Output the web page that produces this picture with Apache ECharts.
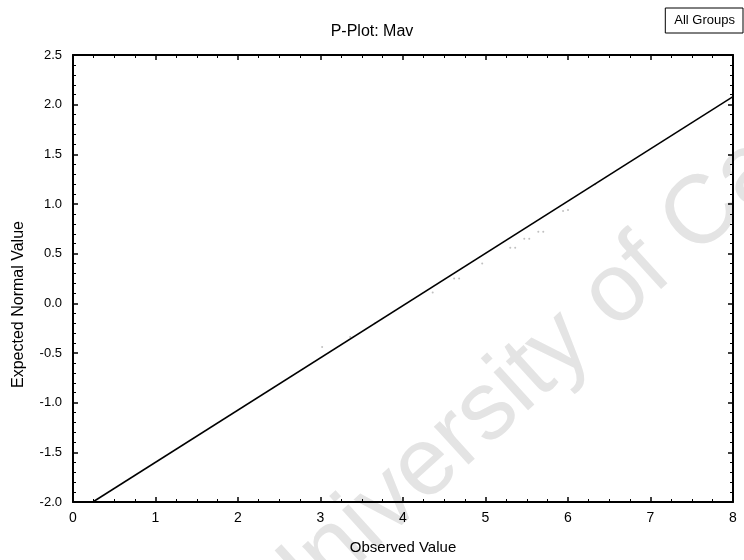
<!DOCTYPE html>
<html>
<head>
<meta charset="utf-8">
<script src="https://cdn.jsdelivr.net/npm/echarts@6/dist/echarts.min.js"></script>
<style>
  html, body { margin: 0; padding: 0; background: #fff; }
  #chart { width: 744px; height: 560px; }
</style>
</head>
<body>
<div id="chart"></div>
<script>
// ---- data ----
var chartTitle = 'P-Plot: Mav';
var legendLabel = 'All Groups';
var xAxisName = 'Observed Value';
var yAxisName = 'Expected Normal Value';
var watermarkText = 'University of Cape Town';

// expected-normal reference line (observed value -> expected normal value)
var lineX = [0.24, 8.0];
var lineY = [-2.0, 2.08];

// faint observed points visible near the line
var pointsX = [3.02, 3.36, 3.66, 4.36, 4.62, 4.68, 4.96, 5.30, 5.36, 5.47, 5.53, 5.64, 5.70, 5.94, 6.00, 6.33];
var pointsY = [-0.44, -0.34, -0.20, 0.11, 0.25, 0.25, 0.40, 0.56, 0.56, 0.65, 0.65, 0.72, 0.72, 0.93, 0.94, 1.20];

var xMin = 0, xMax = 8, xStep = 1;
var yMin = -2.0, yMax = 2.5, yStep = 0.5;

// ---- build ----
var lineData = lineX.map(function (x, i) { return [x, lineY[i]]; });
var pointData = pointsX.map(function (x, i) { return [x, pointsY[i]]; });

var FONT = '"Liberation Sans", Arial, sans-serif';
var axisLineStyle = { color: '#000', width: 2 };

function baseAxis(extra) {
  var a = {
    type: 'value',
    axisLine: { show: true, onZero: false, lineStyle: axisLineStyle },
    axisTick: { show: true, inside: true, length: 5, lineStyle: { color: '#000', width: 1.5 } },
    minorTick: { show: true, length: 3, lineStyle: { color: '#000', width: 1 } },
    splitLine: { show: false },
    minorSplitLine: { show: false }
  };
  for (var k in extra) a[k] = extra[k];
  return a;
}

var chart = echarts.init(document.getElementById('chart'), null, { renderer: 'canvas' });

chart.setOption({
  backgroundColor: '#fff',
  animation: false,
  title: {
    text: chartTitle,
    left: 'center',
    top: 19,
    textStyle: { fontFamily: FONT, fontSize: 16, fontWeight: 'normal', color: '#000' }
  },
  legend: {
    data: [legendLabel],
    right: 1,
    top: 8,
    itemWidth: 0,
    itemHeight: 0,
    itemGap: 0,
    padding: [6, 8, 6, 3],
    borderColor: '#000',
    borderWidth: 1,
    textStyle: { fontFamily: FONT, fontSize: 13, color: '#000' }
  },
  grid: { left: 73, right: 11, top: 55, bottom: 57 },
  graphic: [{
    type: 'text',
    z: -10,
    silent: true,
    x: 262,
    y: 616,
    rotation: 42.3 * Math.PI / 180,
    style: {
      text: watermarkText,
      fontFamily: FONT,
      fontSize: 97,
      fill: '#e4e4e4',
      textAlign: 'left',
      textVerticalAlign: 'middle'
    }
  }],
  xAxis: [
    baseAxis({
      position: 'bottom',
      min: xMin, max: xMax, interval: xStep,
      minorTick: { show: true, splitNumber: 4, length: 3, lineStyle: { color: '#000', width: 1 } },
      name: xAxisName,
      nameLocation: 'middle',
      nameGap: 38,
      nameTextStyle: { fontFamily: FONT, fontSize: 15, color: '#000' },
      axisLabel: { margin: 9, fontFamily: FONT, fontSize: 14, color: '#000' }
    }),
    baseAxis({
      position: 'top',
      min: xMin, max: xMax, interval: xStep,
      minorTick: { show: true, splitNumber: 4, length: 3, lineStyle: { color: '#000', width: 1 } },
      axisLabel: { show: false }
    })
  ],
  yAxis: [
    baseAxis({
      position: 'left',
      min: yMin, max: yMax, interval: yStep,
      minorTick: { show: true, splitNumber: 5, length: 3, lineStyle: { color: '#000', width: 1 } },
      name: yAxisName,
      nameLocation: 'middle',
      nameGap: 46,
      nameTextStyle: { fontFamily: FONT, fontSize: 16, color: '#000', padding: [0, 52, 0, 0] },
      axisLabel: {
        margin: 11, fontFamily: FONT, fontSize: 13, color: '#000',
        formatter: function (v) { return v.toFixed(1); }
      }
    }),
    baseAxis({
      position: 'right',
      min: yMin, max: yMax, interval: yStep,
      minorTick: { show: true, splitNumber: 5, length: 3, lineStyle: { color: '#000', width: 1 } },
      axisLabel: { show: false }
    })
  ],
  series: [
    {
      name: 'observed',
      type: 'scatter',
      xAxisIndex: 0,
      yAxisIndex: 0,
      symbol: 'circle',
      symbolSize: 2,
      itemStyle: { color: '#b0b0b0' },
      data: pointData,
      z: 2
    },
    {
      name: legendLabel,
      type: 'line',
      xAxisIndex: 0,
      yAxisIndex: 0,
      showSymbol: false,
      symbol: 'none',
      lineStyle: { color: '#000', width: 1.5 },
      itemStyle: { color: '#000' },
      data: lineData,
      z: 3
    }
  ]
});
</script>
</body>
</html>
